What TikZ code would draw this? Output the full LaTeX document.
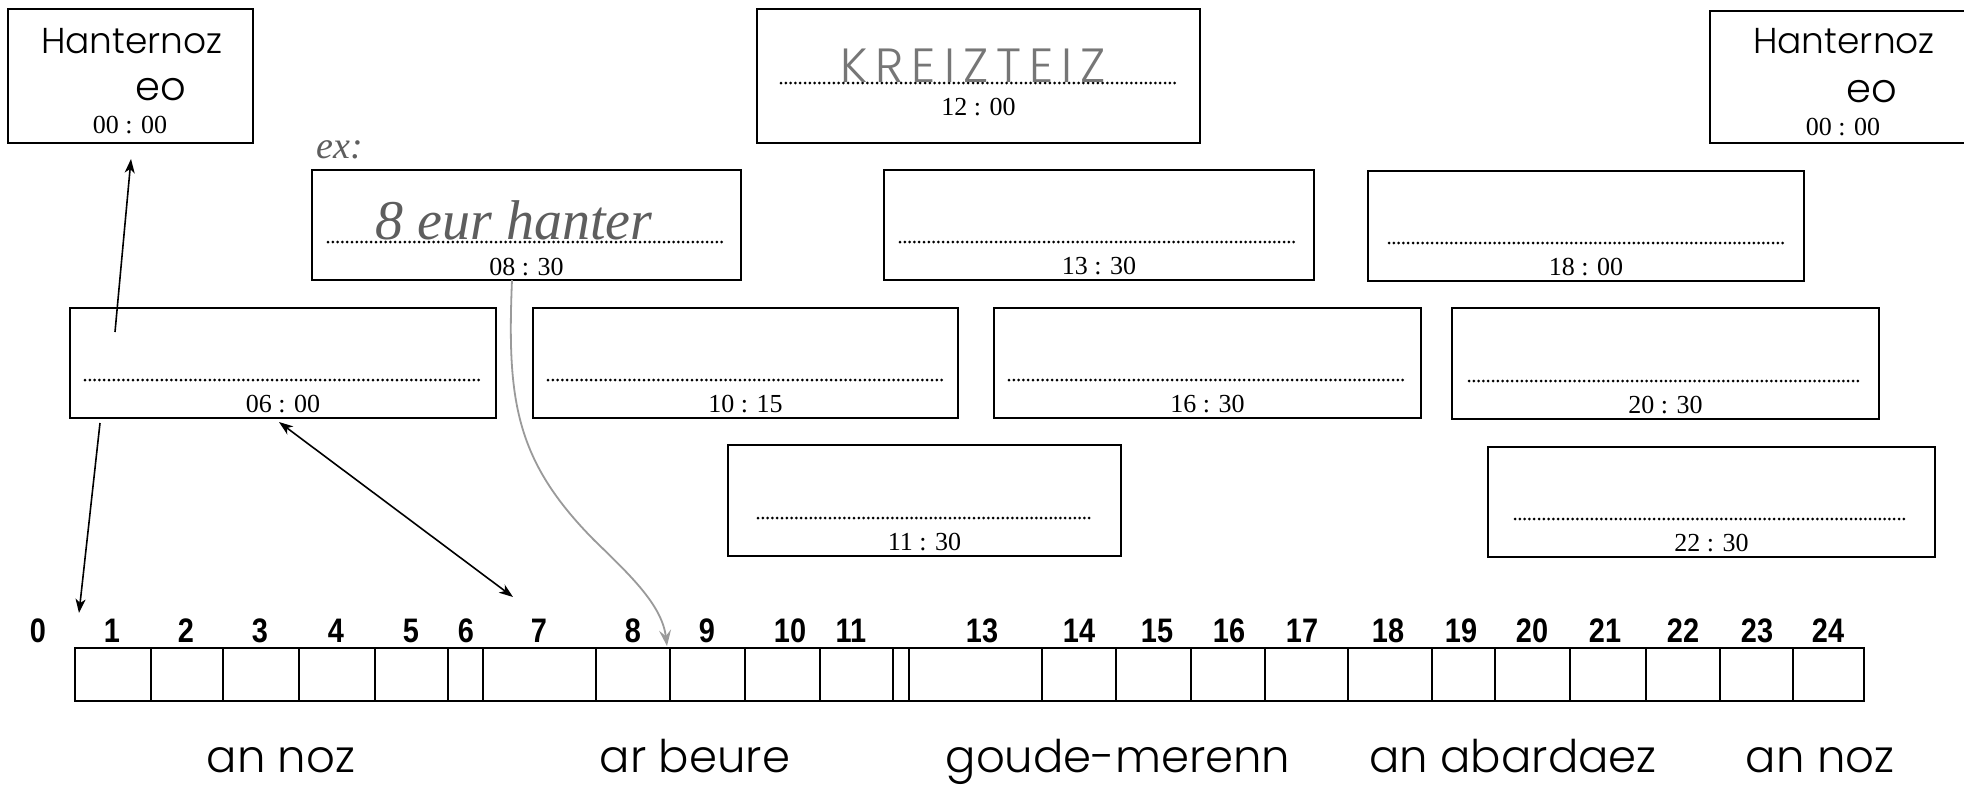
\documentclass[tikz,border=0pt]{standalone}
\usepackage{fontspec}
\setmainfont{Liberation Serif}
\newfontfamily\geo{Poppins Light}
\newfontfamily\numf[FakeStretch=0.85]{Liberation Sans}
\newfontfamily\kfont{Poppins Light}
\usetikzlibrary{arrows.meta}
\definecolor{pen}{HTML}{5E5E5E}
\definecolor{pencurve}{HTML}{9A9A9A}
\tikzset{
  frame/.style={draw, line width=0.7pt, inner sep=0pt, rectangle},
  dotline/.style={line width=1.5pt, line cap=round, dash pattern=on 0pt off 2.4pt},
  tlabel/.style={font=\fontsize{13}{15}\selectfont, inner sep=0pt, anchor=base},
  geolabel/.style={font=\geo\fontsize{18}{21}\selectfont, inner sep=0pt, anchor=base},
  eolabel/.style={font=\geo\fontsize{20}{24}\selectfont, inner sep=0pt, anchor=base},
  part/.style={font=\geo\fontsize{22.5}{26}\selectfont, inner sep=0pt, anchor=base},
  num/.style={font=\numf\bfseries\fontsize{17}{20}\selectfont, inner sep=0pt, anchor=base},
  arr/.style={line width=0.8pt, -{Stealth[length=7pt,width=5pt,inset=2pt]}},
  dblarr/.style={line width=0.8pt, {Stealth[length=7pt,width=5pt,inset=2pt]}-{Stealth[length=7pt,width=5pt,inset=2pt]}},
  hand/.style={text=pen, inner sep=0pt, anchor=base},
}
% name, x1, y1, x2, y2, inset, dotted offset, time baseline offset, time
\newcommand\tbx[9]{%
  \node[frame, minimum width={(#4-#2)*0.5pt}, minimum height={(#5-#3)*0.5pt}] (#1) at ({(#2+#4)/2},{(#3+#5)/2}) {};
  \draw[dotline] ({#2+#6},{#5-#7}) -- ({#4-#6},{#5-#7});
  \node[tlabel] (#1t) at ({(#2+#4)/2},{#5-#8}) {#9};
}
\begin{document}
\begin{tikzpicture}[x=0.5pt,y=-0.5pt]
\useasboundingbox (0,0) rectangle (1964,784);
\clip (0,0) rectangle (1964,784);
\fill[white] (0,0) rectangle (1964,784);

% Hanternoz eo boxes
\node[frame, minimum width={245*0.5pt}, minimum height={134*0.5pt}] (hL) at (130.5,76) {};
\node[geolabel] (hL1) at (132,53) {Hanternoz};
\node[eolabel] (hL2) at (161,100) {eo};
\node[tlabel] (hL3) at (130,133) {00 : 00};

\node[frame, minimum width={258*0.5pt}, minimum height={132*0.5pt}] (hR) at (1839,77) {};
\node[geolabel] (hR1) at (1844,53) {Hanternoz};
\node[eolabel] (hR2) at (1872,102) {eo};
\node[tlabel] (hR3) at (1843,135) {00 : 00};

% time boxes
\tbx{bk}{757}{9}{1200}{143}{24}{60}{28}{12 : 00}
\tbx{bex}{312}{170}{741}{280}{16}{38}{5}{08 : 30}
\tbx{b1330}{884}{170}{1314}{280}{16}{38}{6}{13 : 30}
\tbx{b1800}{1368}{171}{1804}{281}{21}{38}{6}{18 : 00}
\tbx{b0600}{70}{308}{496}{418}{15}{38}{6}{06 : 00}
\tbx{b1015}{533}{308}{958}{418}{15}{38}{6}{10 : 15}
\tbx{b1630}{994}{308}{1421}{418}{15}{38}{6}{16 : 30}
\tbx{b2030}{1452}{308}{1879}{419}{17}{38}{6}{20 : 30}
\tbx{b1130}{728}{445}{1121}{556}{30}{38}{6}{11 : 30}
\tbx{b2230}{1488}{447}{1935}{557}{27}{38}{6}{22 : 30}

% handwriting
\node[hand, font=\itshape\fontsize{19}{22}\selectfont] (ex) at (340,158) {ex:};
\node[hand, font=\itshape\fontsize{28}{31}\selectfont] (exw) at (514,239) {8 eur hanter};
\node[hand, font=\kfont\fontsize{24}{28}\selectfont, text=pen!85] (kw) at (973,82) {K\,R\,E\,I\,Z\,T\,E\,I\,Z};

% timeline
\node[frame, minimum width={1789*0.5pt}, minimum height={53*0.5pt}] (tl) at (969.5,674.5) {};
\foreach \x in {151,223,299,375,448,483,596,670,745,820,893,909,1042,1116,1191,1265,1348,1432,1495,1570,1646,1720,1793}
  \draw[line width=0.6pt] (\x,648) -- (\x,701);
\foreach \n/\x in {0/38,1/112,2/186,3/260,4/336,5/411,6/466,7/539,8/633,9/707,10/790,11/851,13/982,14/1079,15/1157,16/1229,17/1302,18/1388,19/1461,20/1532,21/1605,22/1683,23/1757,24/1828}
  \node[num] (n\n) at (\x,642) {\n};

% parts of the day
\node[part] (p1) at (281,772) {an noz};
\node[part] (p2) at (695,772) {ar beure};
\node[part] (p3) at (1118,772) {goude-merenn};
\node[part] (p4) at (1513,772) {an abardaez};
\node[part] (p5) at (1820,772) {an noz};

% arrows
\coordinate (a1s) at (115,332);
\coordinate (a1e) at (131,159);
\draw[arr] (a1s) -- (a1e);
\coordinate (a2s) at (100,423);
\coordinate (a2e) at (79,613);
\draw[arr] (a2s) -- (a2e);
\coordinate (a3s) at (279,422);
\coordinate (a3e) at (513,597);
\draw[dblarr] (a3s) -- (a3e);
\coordinate (cs) at (512,280);
\coordinate (ce) at (667,646);
\draw[pencurve, line width=0.9pt, -{Stealth[length=8pt,width=6pt,inset=3pt]}] (cs) .. controls (507,400) and (515,460) .. (594,540) .. controls (630,575) and (662,605) .. (ce);
\end{tikzpicture}
\end{document}
